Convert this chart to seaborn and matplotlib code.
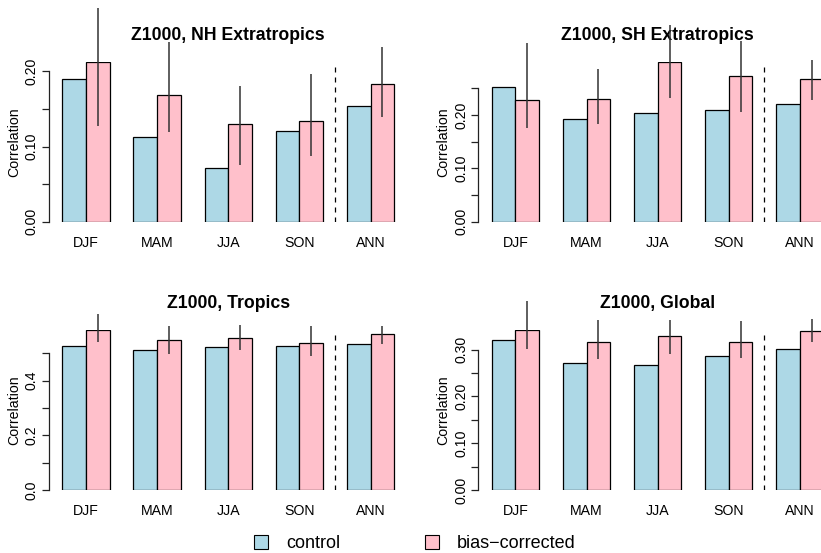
import numpy as np
import pandas as pd
import matplotlib
matplotlib.use("Agg")
import matplotlib.pyplot as plt
from matplotlib.patches import Patch
import seaborn as sns

# Seasonal and annual Z1000 correlation skill, control vs bias-corrected runs
seasons = ["DJF", "MAM", "JJA", "SON", "ANN"]
runs = ["control", "bias\u2212corrected"]
run_colors = ["lightblue", "pink"]

titles = ["Z1000, NH Extratropics", "Z1000, SH Extratropics",
          "Z1000, Tropics", "Z1000, Global"]

nh_control = [0.190, 0.112, 0.071, 0.120, 0.154]
nh_biascorr = [0.212, 0.168, 0.130, 0.134, 0.183]
nh_lower = [0.127, 0.119, 0.076, 0.088, 0.139]
nh_upper = [0.284, 0.239, 0.180, 0.196, 0.232]

sh_control = [0.252, 0.192, 0.203, 0.209, 0.221]
sh_biascorr = [0.229, 0.231, 0.299, 0.274, 0.267]
sh_lower = [0.175, 0.183, 0.232, 0.206, 0.228]
sh_upper = [0.336, 0.286, 0.369, 0.339, 0.304]

tr_control = [0.526, 0.511, 0.524, 0.527, 0.533]
tr_biascorr = [0.584, 0.550, 0.555, 0.537, 0.570]
tr_lower = [0.540, 0.499, 0.513, 0.489, 0.535]
tr_upper = [0.643, 0.600, 0.604, 0.600, 0.600]

gl_control = [0.321, 0.271, 0.267, 0.286, 0.302]
gl_biascorr = [0.341, 0.317, 0.328, 0.315, 0.339]
gl_lower = [0.302, 0.279, 0.291, 0.281, 0.315]
gl_upper = [0.403, 0.364, 0.364, 0.360, 0.366]

nh_ticks = [0.00, 0.05, 0.10, 0.15, 0.20]
nh_ticklabels = ["0.00", "", "0.10", "", "0.20"]
sh_ticks = [0.00, 0.05, 0.10, 0.15, 0.20, 0.25]
sh_ticklabels = ["0.00", "", "0.10", "", "0.20", ""]
tr_ticks = [0.0, 0.1, 0.2, 0.3, 0.4, 0.5]
tr_ticklabels = ["0.0", "", "0.2", "", "0.4", ""]
gl_ticks = [0.00, 0.05, 0.10, 0.15, 0.20, 0.25, 0.30]
gl_ticklabels = ["0.00", "", "0.10", "", "0.20", "", "0.30"]

panels = [
    (nh_control, nh_biascorr, nh_lower, nh_upper, nh_ticks, nh_ticklabels),
    (sh_control, sh_biascorr, sh_lower, sh_upper, sh_ticks, sh_ticklabels),
    (tr_control, tr_biascorr, tr_lower, tr_upper, tr_ticks, tr_ticklabels),
    (gl_control, gl_biascorr, gl_lower, gl_upper, gl_ticks, gl_ticklabels),
]

sns.set_style("ticks")
plt.rcParams["font.family"] = ["Liberation Sans", "DejaVu Sans"]
for key in ["text.color", "axes.labelcolor", "xtick.color", "ytick.color"]:
    plt.rcParams[key] = "black"

W, H = 821, 553
fig = plt.figure(figsize=(W / 100, H / 100), dpi=100)

# panel boxes in pixels: (left, top, right, bottom); right column runs past the edge
boxes = [(49, 62.3, 407.5, 221.7), (478.4, 62.3, 836.9, 221.7),
         (49, 330.3, 407.5, 490.0), (478.4, 330.3, 836.9, 490.0)]

ink = "#222222"

for (ctrl, bc, lo, hi, ticks, ticklabels), title, (l, t, r, b) in zip(panels, titles, boxes):
    ax = fig.add_axes([l / W, 1 - b / H, (r - l) / W, (b - t) / H])
    df = pd.DataFrame({
        "season": seasons * 2,
        "run": [runs[0]] * len(seasons) + [runs[1]] * len(seasons),
        "corr": list(ctrl) + list(bc),
    })
    sns.barplot(data=df, x="season", y="corr", hue="run", order=seasons,
                hue_order=runs, palette=run_colors, saturation=1,
                errorbar=None, width=2 / 3, edgecolor="black", linewidth=0.9,
                legend=False, ax=ax)

    # uncertainty range on the bias-corrected bars
    xs = [p.get_x() + p.get_width() / 2 for p in ax.containers[1].patches]
    ax.vlines(xs, lo, hi, color="#333333", lw=1.1, clip_on=False, zorder=5)

    # separate the annual value from the seasons
    ax.axvline(3.5, color="black", lw=0.9, ls=(0, (4, 4)))

    ax.set_xlim(-0.52, 4.52)
    ax.set_ylim(0, max(max(ctrl), max(bc)))
    ax.set_xlabel("")
    ax.set_ylabel("")

    for side in ["top", "right", "bottom"]:
        ax.spines[side].set_visible(False)
    ax.spines["left"].set_bounds(ticks[0], ticks[-1])
    ax.spines["left"].set_linewidth(0.9)
    ax.spines["left"].set_color(ink)

    ax.set_yticks(ticks)
    ax.set_yticklabels(ticklabels, rotation=90, va="center")
    ax.tick_params(axis="y", direction="out", length=4.8, width=0.9,
                   pad=2.5, labelsize=10.2, colors=ink, labelcolor="black")
    ax.tick_params(axis="x", length=0, pad=10, labelsize=10.2,
                   labelcolor="black")

    ax.text(-35 / (r - l), 0.5, "Correlation", transform=ax.transAxes,
            rotation=90, ha="center", va="center", fontsize=10.2,
            color="black")
    ax.annotate(title, xy=(0.5, 1), xycoords="axes fraction",
                xytext=(0, 15.8), textcoords="offset points",
                ha="center", va="baseline", fontsize=12.7, fontweight="bold",
                color="black")

handles = [Patch(facecolor=c, edgecolor="black", linewidth=0.8) for c in run_colors]
fig.legend(handles, runs, loc="center", bbox_to_anchor=(414.7 / W, 1 - 543.5 / H),
           ncol=2, frameon=False, fontsize=13, handlelength=0.78,
           handleheight=0.78, handletextpad=1.0, columnspacing=4.7,
           borderpad=0, borderaxespad=0)

fig.savefig("out.png", dpi=100)
